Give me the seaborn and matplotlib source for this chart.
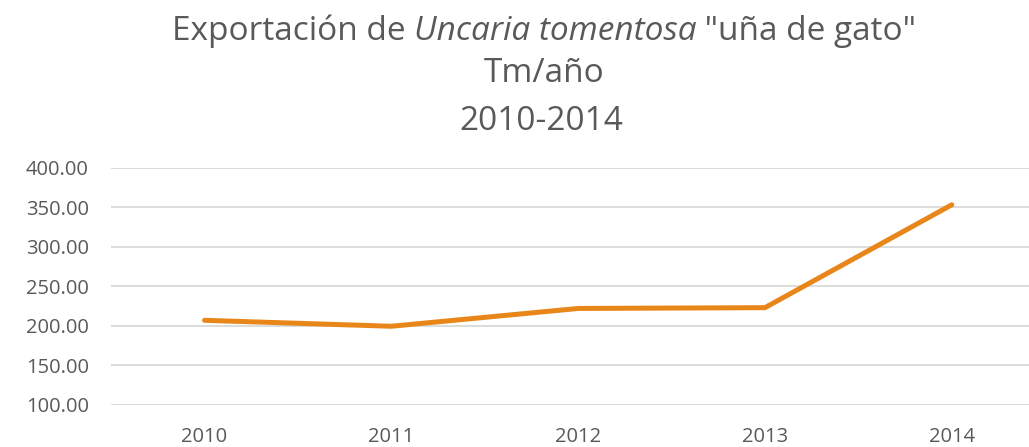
import matplotlib

matplotlib.use("Agg")
import matplotlib.pyplot as plt
import pandas as pd
import seaborn as sns

years = ["2010", "2011", "2012", "2013", "2014"]
tonnes = [207.0, 199.5, 222.0, 223.0, 353.0]
y_ticks = [100, 150, 200, 250, 300, 350, 400]

title_parts = [("Exportación de ", "normal"), ("Uncaria tomentosa", "italic"), (' "uña de gato"', "normal")]
title_line2 = "Tm/año"
title_line3 = "2010-2014"

TEXT = "#595959"
GRID = "#d9d9d9"
ORANGE = "#e8861a"

sns.set_theme(style="white")
plt.rcParams["font.family"] = ["Open Sans", "DejaVu Sans"]

df = pd.DataFrame({"year": years, "tm": tonnes})

fig = plt.figure(figsize=(10.29, 4.47), dpi=100)
ax = fig.add_axes([0.108, 0.094, 0.9077, 0.531])
sns.lineplot(data=df, x="year", y="tm", ax=ax, color=ORANGE, linewidth=3.6,
             solid_capstyle="round", solid_joinstyle="miter", sort=False)

ax.set_xlim(-0.5, 4.5)
ax.set_ylim(100, 400)
ax.set_yticks(y_ticks)
ax.yaxis.set_major_formatter(lambda v, _: f"{v:.2f}")
ax.grid(axis="y", color=GRID, linewidth=1.3)
ax.set_axisbelow(True)
for spine in ax.spines.values():
    spine.set_visible(False)
ax.tick_params(axis="both", length=0, labelsize=14.5, labelcolor=TEXT, pad=16)
ax.set_xlabel("")
ax.set_ylabel("")

# title: three lines, the first with an italic species name
title_size = 24
fig.canvas.draw()
renderer = fig.canvas.get_renderer()
pieces = [fig.text(0, 0, s, fontsize=title_size, style=st, color=TEXT, va="center", ha="left")
          for s, st in title_parts]
widths = [p.get_window_extent(renderer).width for p in pieces]
total = sum(widths)
x0 = 544 - total / 2
for p, w in zip(pieces, widths):
    p.set_position((x0 / 1029, 1 - 31 / 447))
    x0 += w
fig.text(544 / 1029, 1 - 74 / 447, title_line2, fontsize=title_size, color=TEXT, ha="center", va="center")
fig.text(541 / 1029, 1 - 121 / 447, title_line3, fontsize=title_size, color=TEXT, ha="center", va="center")

fig.savefig("out.png", dpi=100)
